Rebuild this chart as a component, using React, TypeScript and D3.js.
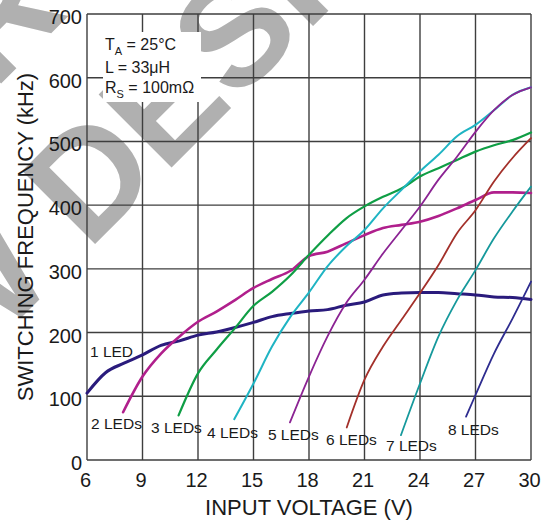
import React from 'react';
import * as d3 from 'd3';

const xTicks = [6, 9, 12, 15, 18, 21, 24, 27, 30];
const yTicks = [0, 100, 200, 300, 400, 500, 600, 700];

const v1 = [6, 7, 8, 9, 10, 11, 12, 13, 14, 15, 16, 17, 18, 19, 20, 21, 22, 23, 24, 25, 26, 27, 28, 29, 30];
const f1 = [105, 137, 152, 165, 180, 187, 196, 201, 208, 216, 225, 230, 234, 236, 243, 248, 259, 262, 263, 263, 261, 259, 256, 255, 252];

const v2 = [7.95, 9, 10, 11, 12, 13, 14, 15, 16, 17, 18, 19, 20, 21, 22, 23, 24, 25, 26, 27, 28, 29, 30];
const f2 = [75, 131, 167, 194, 217, 233, 251, 270, 284, 297, 320, 327, 340, 353, 364, 369, 374, 383, 395, 408, 420, 420, 419];

const v3 = [10.95, 12, 13, 14, 15, 16, 17, 18, 19, 20, 21, 22, 23, 24, 25, 26, 27, 28, 29, 30];
const f3 = [70, 136, 173, 207, 242, 264, 290, 322, 352, 379, 398, 413, 426, 445, 458, 471, 484, 494, 502, 514];

const v4 = [13.96, 15, 16, 17, 18, 19, 20, 21, 22, 23, 24, 25, 26, 27, 28, 29, 30];
const f4 = [64, 120, 178, 225, 263, 304, 335, 361, 395, 424, 453, 479, 508, 526, 549, 573, 585];

const v5 = [16.97, 18, 19, 20, 21, 22, 23, 24, 25, 26, 27, 28, 29, 30];
const f5 = [59, 131, 194, 246, 283, 324, 361, 398, 440, 476, 515, 549, 573, 585];

const v6 = [20.04, 21, 22, 23, 24, 25, 26, 27, 28, 29, 30];
const f6 = [51, 126, 178, 220, 262, 306, 356, 392, 437, 474, 505];

const v7 = [22.97, 24, 25, 26, 27, 28, 29, 30];
const f7 = [39, 120, 194, 251, 298, 348, 390, 429];

const v8 = [26.49, 27, 28, 29, 30];
const f8 = [68, 102, 167, 222, 280];

const seriesNames = ['1 LED', '2 LEDs', '3 LEDs', '4 LEDs', '5 LEDs', '6 LEDs', '7 LEDs', '8 LEDs'];
const seriesV = [v1, v2, v3, v4, v5, v6, v7, v8];
const seriesF = [f1, f2, f3, f4, f5, f6, f7, f8];
const seriesColors = ['#2a1b7c', '#b01f8c', '#0f9e45', '#1fb4c3', '#8b2393', '#a3302a', '#16999c', '#2e2c8f'];
const seriesWidths = [3, 2.6, 2.2, 2, 1.8, 1.8, 1.8, 1.8];

// label anchors (data units: volts, kHz) for curve labels
const labelV = [6.16, 6.22, 9.46, 12.49, 15.78, 18.92, 22.16, 25.51];
const labelF = [161, 48, 42, 34, 31, 23, 14, 39];

const FONT = '"Liberation Sans", Arial, Helvetica, sans-serif';

export default function App() {
  const W = 553, H = 523;
  const left = 87, right = 531, top = 14, bottom = 460;
  const x = d3.scaleLinear().domain([6, 30]).range([left, right]);
  const y = d3.scaleLinear().domain([0, 700]).range([bottom, top]);

  const line = d3.line<[number, number]>()
    .x(d => x(d[0]))
    .y(d => y(d[1]))
    .curve(d3.curveMonotoneX);

  const gridColor = '#3e3e3e';

  // watermark placement
  const wmX = -189, wmY = 528;
  const up = 180;
  const l1x = wmX - up * 0.7071, l1y = wmY - up * 0.7071;

  return (
    <svg width={W} height={H} style={{ position: 'absolute', left: 0, top: 0, background: '#fff' }} fontFamily={FONT}>
      <rect x={0} y={0} width={W} height={H} fill="#fff" />
      {/* watermark */}
      <g fill="#b0b0b0" fontWeight="bold" fontSize={150}>
        <text transform={`translate(${wmX},${wmY}) rotate(-45)`}>NEW DESIGNS</text>
        <text transform={`translate(${l1x + 547 * 0.7071},${l1y - 547 * 0.7071}) rotate(-45)`} textAnchor="end">NOT RECOMMENDED FOR</text>
      </g>
      {/* grid */}
      <g stroke={gridColor} strokeWidth={1.4}>
        {xTicks.map(t => (
          <line key={'gx' + t} x1={x(t)} x2={x(t)} y1={top} y2={bottom} />
        ))}
        {yTicks.map(t => (
          <line key={'gy' + t} x1={left} x2={right} y1={y(t)} y2={y(t)} />
        ))}
      </g>
      {/* annotation box */}
      <rect x={103} y={32} width={98} height={70} fill="#fff" />
      <g fontSize={16} fill="#1a1a1a">
        <text x={105} y={50}>T<tspan fontSize={11} dy={5}>A</tspan><tspan dy={-5}> = 25°C</tspan></text>
        <text x={105} y={73}>L = 33μH</text>
        <text x={105} y={93}>R<tspan fontSize={11} dy={5}>S</tspan><tspan dy={-5}> = 100mΩ</tspan></text>
      </g>
      {/* curves */}
      <g fill="none" strokeLinejoin="round" strokeLinecap="round">
        {seriesV.map((vs, i) => (
          <path key={'s' + i}
            d={line(vs.map((v, j) => [v, seriesF[i][j]] as [number, number])) || ''}
            stroke={seriesColors[i]} strokeWidth={seriesWidths[i]} />
        ))}
      </g>
      {/* curve labels */}
      <g fontSize={15.5} fill="#1a1a1a">
        {seriesNames.map((n, i) => (
          <text key={'l' + i} x={x(labelV[i])} y={y(labelF[i])}>{n}</text>
        ))}
      </g>
      {/* y tick labels */}
      <g fontSize={20} fill="#1a1a1a" textAnchor="end">
        {yTicks.map(t => (
          <text key={'yt' + t} x={left - 5} y={y(t) + 10}>{t}</text>
        ))}
      </g>
      {/* x tick labels */}
      <g fontSize={20} fill="#1a1a1a" textAnchor="middle">
        {xTicks.map(t => (
          <text key={'xt' + t} x={x(t) - 1.5} y={487}>{t}</text>
        ))}
      </g>
      <text x={(left + right) / 2} y={515} fontSize={22} textAnchor="middle" fill="#1a1a1a">INPUT VOLTAGE (V)</text>
      <text transform={`translate(33,${(top + bottom) / 2}) rotate(-90)`} fontSize={22} textAnchor="middle" fill="#1a1a1a">SWITCHING FREQUENCY (kHz)</text>
    </svg>
  );
}
